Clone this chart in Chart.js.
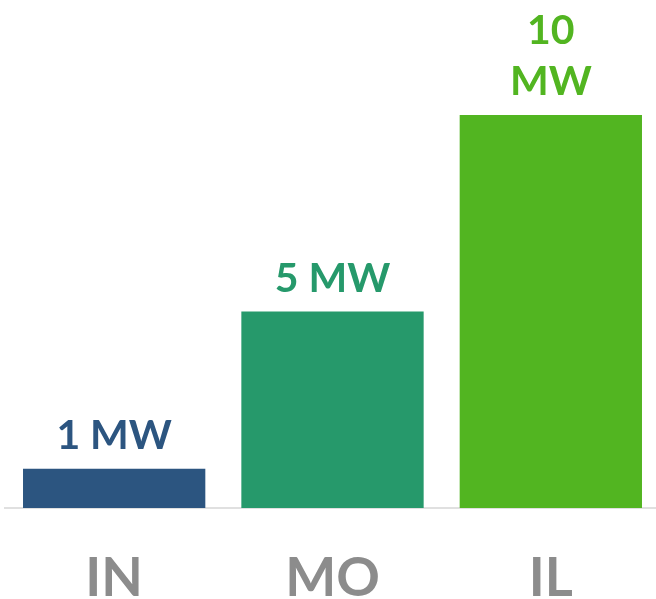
<!DOCTYPE html>
<html>
<head>
<meta charset="utf-8">
<script src="https://cdn.jsdelivr.net/npm/chart.js@4/dist/chart.umd.min.js"></script>
<style>
  html, body { margin: 0; padding: 0; background: #ffffff; overflow: hidden; }
  #wrap { width: 656px; height: 599px; overflow: hidden; }
</style>
</head>
<body>
<div id="wrap"><canvas id="c" width="660" height="599"></canvas></div>
<script>
const categories = ["IN", "MO", "IL"];
const capacityMW = [1, 5, 10];
const valueLabels = [["1 MW"], ["5 MW"], ["10", "MW"]];
const barColors = ["#2c5580", "#26996b", "#52b521"];

const valueLabelPlugin = {
  id: "valueLabels",
  afterDatasetsDraw(chart) {
    const ctx = chart.ctx;
    const meta = chart.getDatasetMeta(0);
    ctx.save();
    ctx.font = "bold 41px Lato, 'Open Sans', sans-serif";
    ctx.textAlign = "center";
    ctx.textBaseline = "alphabetic";
    meta.data.forEach((bar, i) => {
      const lines = valueLabels[i];
      ctx.fillStyle = barColors[i];
      let y = bar.y - 20;
      for (let k = lines.length - 1; k >= 0; k--) {
        ctx.fillText(lines[k], bar.x, y);
        y -= 51;
      }
    });
    ctx.restore();
  }
};

new Chart(document.getElementById("c"), {
  type: "bar",
  data: {
    labels: categories,
    datasets: [{
      data: capacityMW,
      backgroundColor: barColors,
      borderWidth: 0,
      categoryPercentage: 1,
      barPercentage: 0.835
    }]
  },
  options: {
    responsive: false,
    animation: false,
    layout: { padding: { top: 115, left: 5, right: 0, bottom: 0 } },
    plugins: { legend: { display: false }, tooltip: { enabled: false } },
    scales: {
      x: {
        grid: { display: false, drawTicks: false },
        border: { display: true, color: "#e0e0e0", width: 2 },
        ticks: {
          color: "#8c8c8c",
          font: { family: "Lato, 'Open Sans', sans-serif", size: 54, weight: "bold" },
          padding: 38
        },
        afterFit(scale) { scale.height = 91; }
      },
      y: {
        display: false,
        min: 0,
        max: 10
      }
    }
  },
  plugins: [valueLabelPlugin]
});
</script>
</body>
</html>
